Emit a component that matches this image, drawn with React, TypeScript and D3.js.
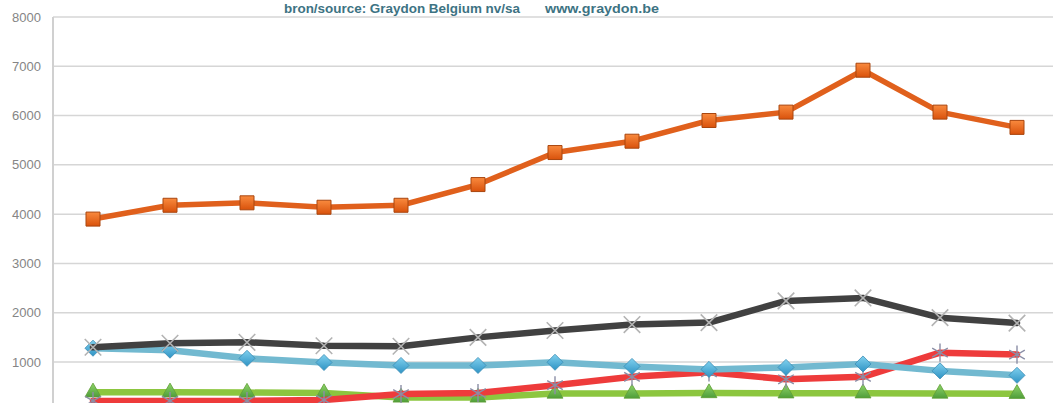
import React from 'react';
import * as d3 from 'd3';

// periods (no x labels visible in the crop)
const periods = ['1', '2', '3', '4', '5', '6', '7', '8', '9', '10', '11', '12', '13'];

const orangeSeries = [3900, 4180, 4230, 4140, 4180, 4600, 5250, 5480, 5900, 6070, 6920, 6070, 5760];
const graySeries = [1300, 1380, 1400, 1330, 1320, 1500, 1640, 1760, 1800, 2240, 2300, 1900, 1790];
const blueSeries = [1280, 1240, 1075, 990, 930, 930, 995, 910, 850, 890, 960, 820, 730];
const redSeries = [210, 210, 210, 230, 350, 370, 530, 700, 790, 650, 700, 1190, 1150];
const greenSeries = [385, 385, 380, 370, 280, 280, 360, 360, 370, 365, 365, 360, 355];

const yTicks = [1000, 2000, 3000, 4000, 5000, 6000, 7000, 8000];

const W = 1053;
const H = 403;

const App: React.FC = () => {
  const x = d3.scaleBand().domain(periods).range([54.5, 1055.5]);
  const y = d3.scaleLinear().domain([0, 8000]).range([411.3, 17]);
  const cx = (p: string) => (x(p) || 0) + x.bandwidth() / 2;

  const line = d3
    .line<number>()
    .x((_d, i) => cx(periods[i]))
    .y(d => y(d));

  const sym = (type: d3.SymbolType, size: number) => d3.symbol().type(type).size(size)() || '';

  const series = [
    {
      key: 'green', values: greenSeries, color: '#8cc63f', width: 6.5,
      marker: sym(d3.symbolTriangle, 110), fill: 'url(#gGreen)', stroke: '#5f9e35', mw: 0.8,
    },
    {
      key: 'red', values: redSeries, color: '#ee3b3b', width: 6.5,
      marker: sym(d3.symbolAsterisk, 230), fill: 'none', stroke: '#8b8ea6', mw: 1.4,
    },
    {
      key: 'blue', values: blueSeries, color: '#72b9d0', width: 6.5,
      marker: sym(d3.symbolDiamond2, 165), fill: 'url(#gBlue)', stroke: '#3b8db5', mw: 0.8,
    },
    {
      key: 'gray', values: graySeries, color: '#414141', width: 6.5,
      marker: sym(d3.symbolTimes, 180), fill: 'none', stroke: '#b3b3b3', mw: 1.6,
    },
    {
      key: 'orange', values: orangeSeries, color: '#e0601c', width: 5.5,
      marker: sym(d3.symbolSquare, 196), fill: 'url(#gOrange)', stroke: '#a9460f', mw: 1,
    },
  ];

  return (
    <div style={{ position: 'fixed', left: 0, top: 0 }}>
      <svg width={W} height={H} style={{ display: 'block', background: '#ffffff' }}>
        <defs>
          <linearGradient id="gOrange" x1="0" y1="0" x2="0" y2="1">
            <stop offset="0" stopColor="#f98a3e" />
            <stop offset="1" stopColor="#d9520c" />
          </linearGradient>
          <linearGradient id="gBlue" x1="0" y1="0" x2="0" y2="1">
            <stop offset="0" stopColor="#7fd0ee" />
            <stop offset="1" stopColor="#2f93c4" />
          </linearGradient>
          <linearGradient id="gGreen" x1="0" y1="0" x2="0" y2="1">
            <stop offset="0" stopColor="#8fd46a" />
            <stop offset="1" stopColor="#4f9e3a" />
          </linearGradient>
        </defs>

        {/* grid */}
        {yTicks.map(t => (
          <line key={t} x1={53} x2={W} y1={y(t)} y2={y(t)} stroke="#d6d6d6" strokeWidth={1.5} />
        ))}
        <line x1={53} x2={53} y1={y(8000)} y2={H} stroke="#d0d0d0" strokeWidth={2} />

        {/* y labels */}
        {yTicks.map(t => (
          <text
            key={t}
            x={41}
            y={y(t)}
            dy="0.35em"
            textAnchor="end"
            fontFamily="Arial, 'Liberation Sans', sans-serif"
            fontSize={13}
            fill="#858585"
          >
            {t}
          </text>
        ))}

        {/* source */}
        <g fontFamily="Arial, 'Liberation Sans', sans-serif" fontSize={12.5} fontWeight="bold" fill="#3d7383">
          <text x={284} y={13} textLength={236} lengthAdjust="spacingAndGlyphs">
            bron/source: Graydon Belgium nv/sa
          </text>
          <text x={545} y={13} textLength={114} lengthAdjust="spacingAndGlyphs">
            www.graydon.be
          </text>
        </g>

        {series.map(s => (
          <g key={s.key}>
            <path
              d={line(s.values) || ''}
              fill="none"
              stroke={s.color}
              strokeWidth={s.width}
              strokeLinejoin="round"
              strokeLinecap="round"
            />
            {s.values.map((v, i) => (
              <path
                key={i}
                d={s.marker}
                transform={`translate(${cx(periods[i])},${y(v)})`}
                fill={s.fill}
                stroke={s.stroke}
                strokeWidth={s.mw}
              />
            ))}
          </g>
        ))}
      </svg>
    </div>
  );
};

export default App;
